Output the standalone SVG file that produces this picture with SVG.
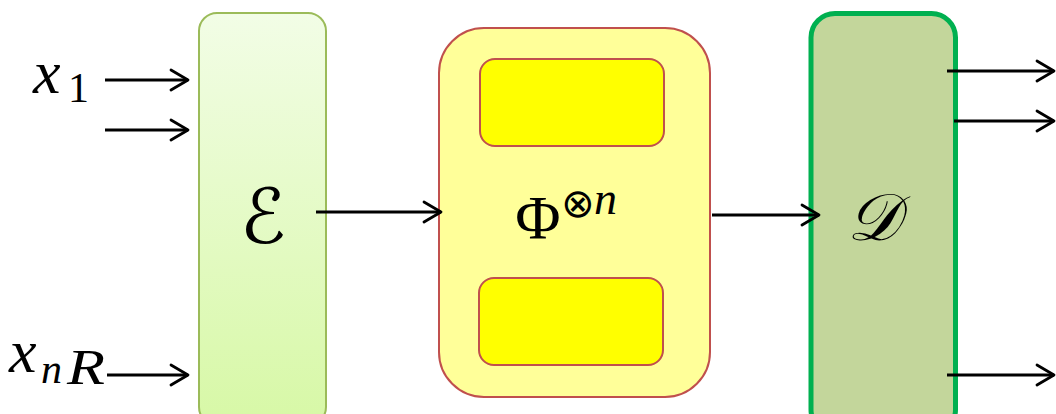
<svg xmlns="http://www.w3.org/2000/svg" width="1056" height="414" viewBox="0 0 1056 414">
  <style>
    .wire { fill: none; stroke: #000; stroke-width: 2.8; }
    .head { fill: none; stroke: #000; stroke-width: 2.8; stroke-linecap: round; stroke-linejoin: round; }
  </style>
  <defs>
    <linearGradient id="encFill" x1="0" y1="0" x2="0" y2="1">
      <stop offset="0" stop-color="#f2fde6"/>
      <stop offset="1" stop-color="#d7f8a6"/>
    </linearGradient>
    <marker id="arrow" viewBox="-20 -12 24 24" refX="0" refY="0" markerWidth="24" markerHeight="24" markerUnits="userSpaceOnUse" orient="auto">
      <path class="head" d="M -17 -10 L 0 0 L -17 10"/>
    </marker>
  </defs>

  <!-- encoder -->
  <g id="encoder">
    <rect x="199" y="13" width="127" height="412" rx="18" fill="url(#encFill)" stroke="#9bbb59" stroke-width="2"/>
    <text x="263" y="243" font-family="DejaVu Sans, sans-serif" font-size="76" text-anchor="middle">ℰ</text>
  </g>

  <!-- channel -->
  <g id="channel">
    <rect x="439" y="28" width="271" height="369" rx="45" fill="#ffff99" stroke="#c0504d" stroke-width="2"/>
    <rect x="480" y="59" width="184" height="87" rx="15" fill="#ffff00" stroke="#c0504d" stroke-width="2"/>
    <rect x="479" y="278" width="184" height="87" rx="15" fill="#ffff00" stroke="#c0504d" stroke-width="2"/>
    <text x="538" y="238" font-family="Liberation Serif, serif" font-size="62" text-anchor="middle">Φ</text>
    <text x="561" y="217" font-family="DejaVu Sans, sans-serif" font-size="40">⊗</text>
    <text x="594" y="214" font-family="Liberation Serif, serif" font-style="italic" font-size="46">n</text>
  </g>

  <!-- decoder -->
  <g id="decoder">
    <rect x="811" y="13.5" width="144.5" height="420" rx="24" fill="#c3d69b" stroke="#00b050" stroke-width="5"/>
    <text x="873" y="240" font-family="DejaVu Serif, serif" font-style="italic" font-size="66" text-anchor="middle">𝒟</text>
  </g>

  <!-- input labels -->
  <g id="inputs" font-family="Liberation Serif, serif">
    <text x="33" y="93" font-style="italic" font-size="62">x</text>
    <text x="68" y="102" font-size="42">1</text>
    <text x="9" y="372" font-style="italic" font-size="62">x</text>
    <text x="41" y="383" font-style="italic" font-size="42">n</text>
    <text x="67" y="384" font-style="italic" font-size="50" textLength="38" lengthAdjust="spacingAndGlyphs">R</text>
  </g>

  <!-- connectors -->
  <g id="connectors">
    <line class="wire" x1="105" y1="80" x2="188" y2="80" marker-end="url(#arrow)"/>
    <line class="wire" x1="105" y1="130" x2="188" y2="130" marker-end="url(#arrow)"/>
    <line class="wire" x1="107" y1="375" x2="188" y2="375" marker-end="url(#arrow)"/>
    <line class="wire" x1="316" y1="212" x2="441" y2="212" marker-end="url(#arrow)"/>
    <line class="wire" x1="712" y1="215" x2="819" y2="215" marker-end="url(#arrow)"/>
    <line class="wire" x1="947" y1="71" x2="1054" y2="71" marker-end="url(#arrow)"/>
    <line class="wire" x1="954" y1="121" x2="1054" y2="121" marker-end="url(#arrow)"/>
    <line class="wire" x1="947" y1="375" x2="1054" y2="375" marker-end="url(#arrow)"/>
  </g>
</svg>
